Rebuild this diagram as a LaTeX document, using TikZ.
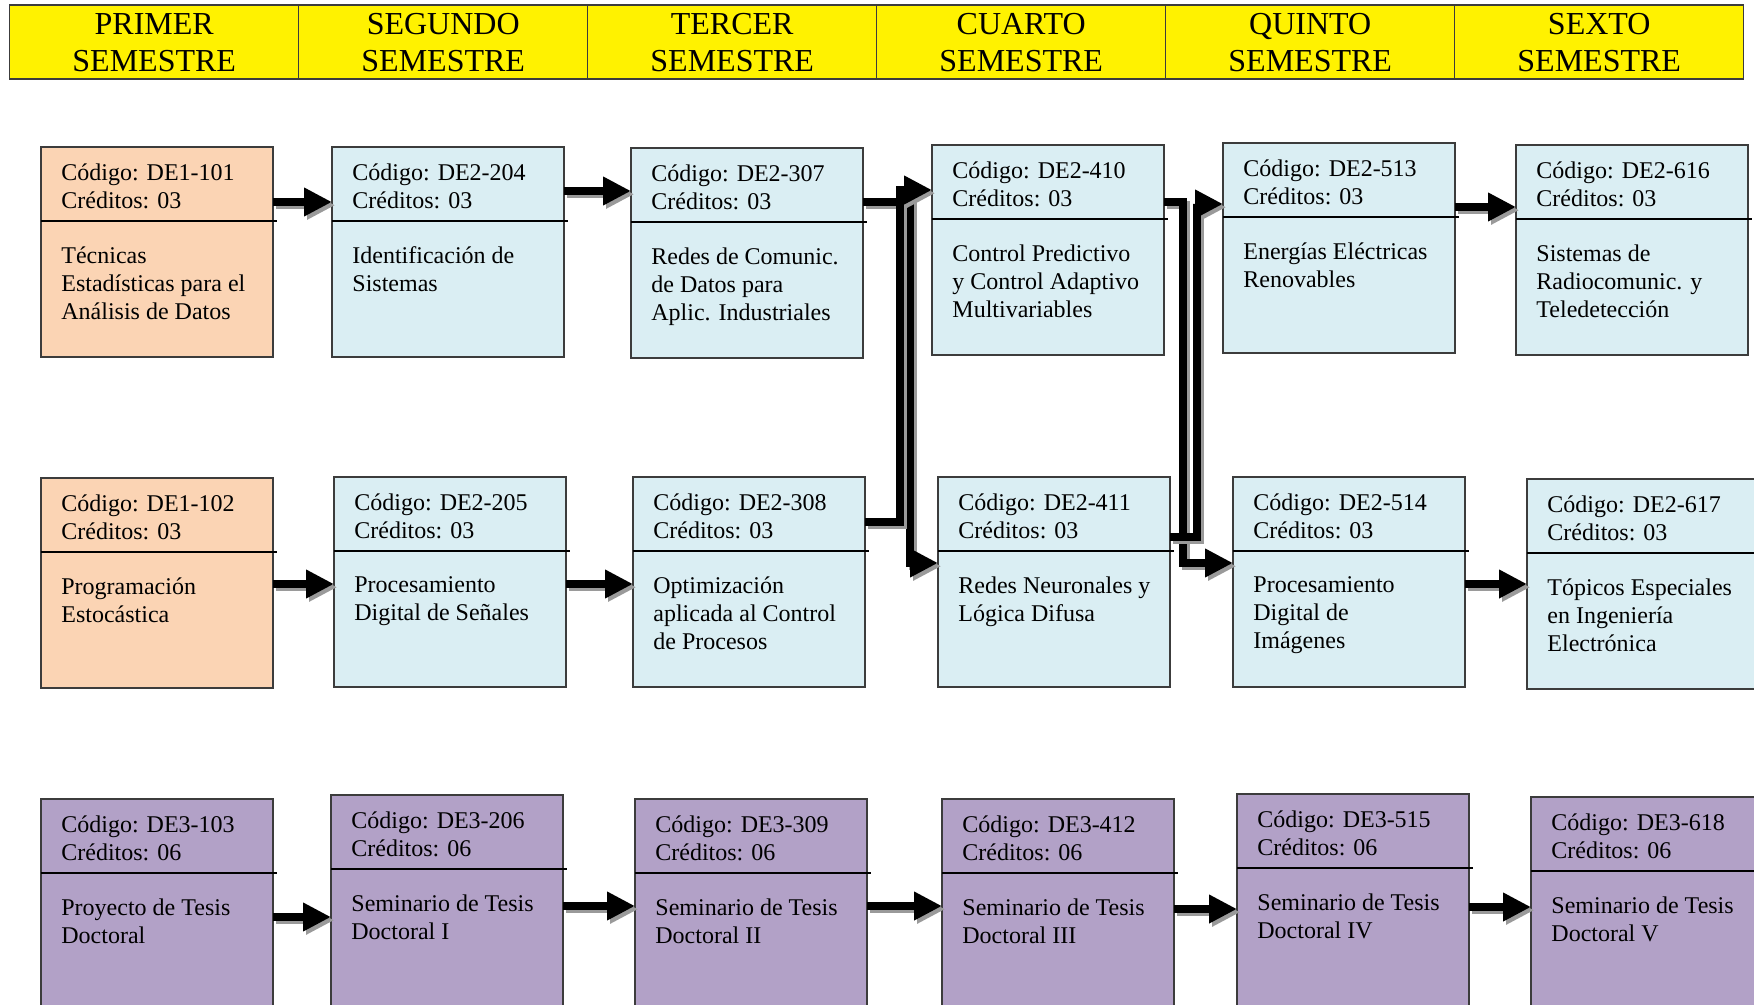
\documentclass[tikz,border=0pt]{standalone}
\usepackage{fontspec}
\setmainfont{Liberation Serif}
\usetikzlibrary{arrows.meta}
\definecolor{durazno}{HTML}{FBD4B4}
\definecolor{celeste}{HTML}{DAEEF3}
\definecolor{lila}{HTML}{B2A1C7}
\definecolor{borde}{HTML}{3C3C3C}
\definecolor{sombra}{HTML}{9A9A9A}
\tikzset{
  semestre/.style={draw=borde, line width=0.7pt, fill=yellow, anchor=north west, inner sep=0pt,
    minimum width=144.5pt, minimum height=37pt, align=center, font=\fontsize{16}{18.5}\selectfont},
  caja/.style={draw=borde, line width=0.8pt, anchor=north west, inner sep=0pt, outer sep=0pt,
    minimum width=116pt, minimum height=105pt},
  cajafinal/.style={caja, minimum height=130pt},
  textocurso/.style={anchor=north west, inner sep=0pt, align=left, font=\fontsize{12}{14}\selectfont},
  linea/.style={line width=1.1pt},
  flecha/.style={line width=4pt, -{Triangle[length=14pt,width=13.5pt]},
    preaction={draw=sombra, line width=4pt, -{Triangle[length=14pt,width=13.5pt]},
      transform canvas={shift={(1.6pt,-1.6pt)}}}},
}
\newcommand{\curso}[6]{%
  \node[caja, #3] (#1) at (#2) {};
  \node[textocurso] (#1cod) at ([shift={(10pt,-8.3pt)}]#1.north west) {Código: #4\\Créditos: #5};
  \draw[linea] ([yshift=-37pt]#1.north west) -- ([shift={(2pt,-37pt)}]#1.north east);
  \node[textocurso] (#1tit) at ([shift={(10pt,-49.5pt)}]#1.north west) {#6};
}
\begin{document}
\begin{tikzpicture}[x=0.5pt, y=-0.5pt]
  \clip (0,0) rectangle (1754,1005);
  \fill[white] (0,0) rectangle (1754,1005);
  % semestres
  \foreach \nom [count=\i from 0] in {PRIMER,SEGUNDO,TERCER,CUARTO,QUINTO,SEXTO}
    \node[semestre] (s\i) at (9+289*\i, 4.5) {\nom\\SEMESTRE};
  % primera fila
  \curso{b1}{41,147}{fill=durazno}{DE1-101}{03}{Técnicas\\Estadísticas para el\\Análisis de Datos}
  \curso{b2}{332,147}{fill=celeste}{DE2-204}{03}{Identificación de\\Sistemas}
  \curso{b3}{631,148}{fill=celeste}{DE2-307}{03}{Redes de Comunic.\\de Datos para\\Aplic. Industriales}
  \curso{b4}{932,145}{fill=celeste}{DE2-410}{03}{Control Predictivo\\y Control Adaptivo\\Multivariables}
  \curso{b5}{1223,143}{fill=celeste}{DE2-513}{03}{Energías Eléctricas\\Renovables}
  \curso{b6}{1516,145}{fill=celeste}{DE2-616}{03}{Sistemas de\\Radiocomunic. y\\Teledetección}
  % segunda fila
  \curso{c1}{41,478}{fill=durazno}{DE1-102}{03}{Programación\\Estocástica}
  \curso{c2}{334,477}{fill=celeste}{DE2-205}{03}{Procesamiento\\Digital de Señales}
  \curso{c3}{633,477}{fill=celeste}{DE2-308}{03}{Optimización\\aplicada al Control\\de Procesos}
  \curso{c4}{938,477}{fill=celeste}{DE2-411}{03}{Redes Neuronales y\\Lógica Difusa}
  \curso{c5}{1233,477}{fill=celeste}{DE2-514}{03}{Procesamiento\\Digital de\\Imágenes}
  \curso{c6}{1527,479}{fill=celeste}{DE2-617}{03}{Tópicos Especiales\\en Ingeniería\\Electrónica}
  % tercera fila
  \curso{d1}{41,799}{cajafinal, fill=lila}{DE3-103}{06}{Proyecto de Tesis\\Doctoral}
  \curso{d2}{331,795}{cajafinal, fill=lila}{DE3-206}{06}{Seminario de Tesis\\Doctoral I}
  \curso{d3}{635,799}{cajafinal, fill=lila}{DE3-309}{06}{Seminario de Tesis\\Doctoral II}
  \curso{d4}{942,799}{cajafinal, fill=lila}{DE3-412}{06}{Seminario de Tesis\\Doctoral III}
  \curso{d5}{1237,794}{cajafinal, fill=lila}{DE3-515}{06}{Seminario de Tesis\\Doctoral IV}
  \curso{d6}{1531,797}{cajafinal, fill=lila}{DE3-618}{06}{Seminario de Tesis\\Doctoral V}
  % flechas
  \draw[flecha] (b1.east |- 0,202) -- (b2.west |- 0,202);
  \draw[flecha] (b2.east |- 0,191) -- (b3.west |- 0,191);
  \draw[flecha] (b5.east |- 0,207) -- (b6.west |- 0,207);
  \draw[flecha] (c1.east |- 0,584) -- (c2.west |- 0,584);
  \draw[flecha] (c2.east |- 0,584) -- (c3.west |- 0,584);
  \draw[flecha] (c5.east |- 0,584) -- (c6.west |- 0,584);
  \draw[flecha] (d1.east |- 0,917) -- (d2.west |- 0,917);
  \draw[flecha] (d2.east |- 0,906) -- (d3.west |- 0,906);
  \draw[flecha] (d3.east |- 0,906) -- (d4.west |- 0,906);
  \draw[flecha] (d4.east |- 0,909) -- (d5.west |- 0,909);
  \draw[flecha] (d5.east |- 0,907) -- (d6.west |- 0,907);
  % cruces
  \draw[flecha] (b3.east |- 0,202) -| (910,563) -- (c4.west |- 0,563);
  \draw[flecha] (c3.east |- 0,522) -| (900,190) -- (b4.west |- 0,190);
  \draw[flecha] (b4.east |- 0,202) -| (1183,563) -- (c5.west |- 0,563);
  \draw[flecha] (c4.east |- 0,537) -| (1197,204) -- (b5.west |- 0,204);
\end{tikzpicture}
\end{document}
